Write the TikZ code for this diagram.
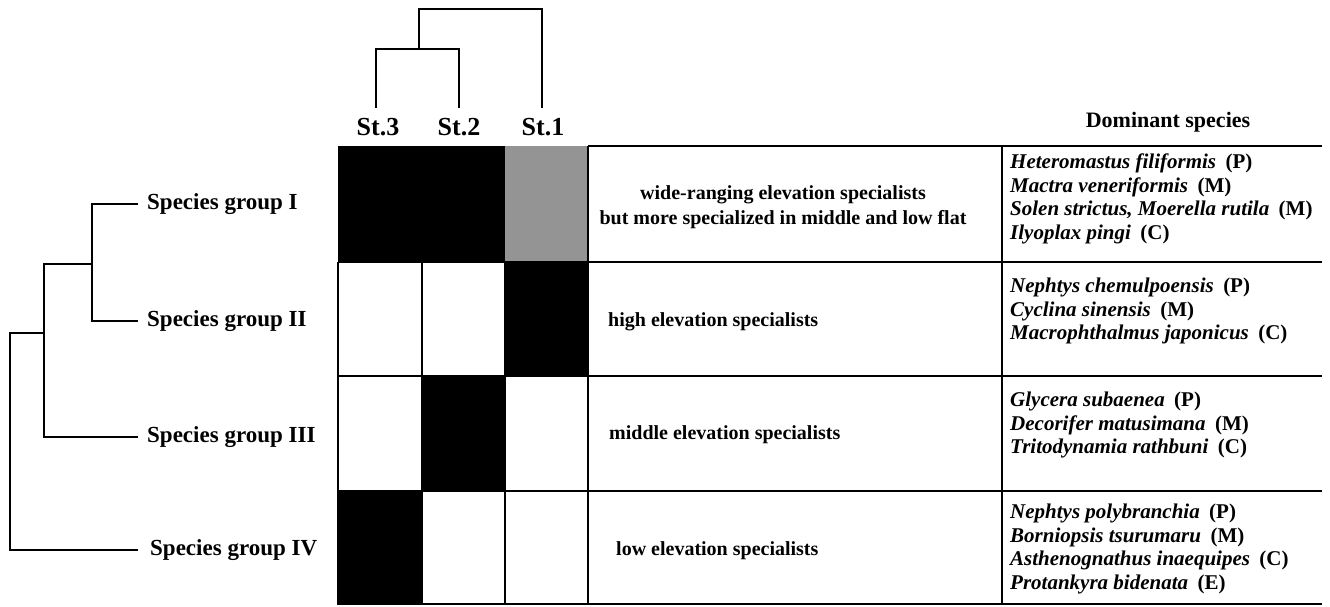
\documentclass[tikz,border=0pt]{standalone}
\usepackage{fontspec}
\setmainfont{Liberation Serif}
\begin{document}
\begin{tikzpicture}[x=1pt,y=-1pt]
\useasboundingbox[fill=white] (0,0) rectangle (1330,607);
\tikzset{
  dend/.style={line width=1.6pt},
  gridline/.style={line width=1.8pt},
  rule/.style={line width=2.8pt},
  grp/.style={font=\fontsize{23}{27}\selectfont\bfseries, anchor=west, inner sep=0pt},
  stn/.style={font=\fontsize{26}{30}\selectfont\bfseries, inner sep=0pt},
  hdr/.style={font=\fontsize{22}{26}\selectfont\bfseries, inner sep=0pt},
  desc/.style={font=\fontsize{20}{25}\selectfont\bfseries, inner sep=0pt},
  spp/.style={font=\fontsize{21}{23.5}\selectfont\bfseries, anchor=west, inner sep=0pt, align=left},
}
\newcommand{\taxon}[2]{\textit{#1}\hspace{0.45em}(#2)}

% ---- occupancy cells (rows = species groups, columns = stations) ----
\fill[black]   (338,146) rectangle (505,262);
\fill[black!42] (505,146) rectangle (588,262);
\fill[black]   (505,262) rectangle (588,376);
\fill[black]   (422,376) rectangle (505,491);
\fill[black]   (338,491) rectangle (422,605);

% ---- grid lines ----
\foreach \x in {338,422,505} \draw[gridline] (\x,262) -- (\x,605);
\draw[gridline] (588,146) -- (588,605);
\foreach \y in {262,376,491} \draw[gridline] (338,\y) -- (588,\y);
\draw[gridline] (338,604) -- (588,604);

% ---- table rules on the right ----
\draw[rule] (588,146) -- (1322,146);
\foreach \y in {262,376,491} \draw[rule] (588,\y) -- (1322,\y);
\draw[rule] (588,604) -- (1322,604);
\draw[gridline] (1002,146) -- (1002,605);

% ---- station dendrogram ----
\node[stn] (st3) at (378,127) {St.3};
\node[stn] (st2) at (459,127) {St.2};
\node[stn] (st1) at (543,127) {St.1};
\coordinate (t3) at (376,108);
\coordinate (t2) at (459,108);
\coordinate (t1) at (542,108);
\coordinate (j23) at (419,49);
\coordinate (jroot) at (419,9);
\draw[dend] (t3) -- (t3 |- j23) -- (t2 |- j23) -- (t2);
\draw[dend] (j23) -- (jroot) -- (t1 |- jroot) -- (t1);

% ---- species-group dendrogram ----
\node[grp] (g1) at (147,204) {Species group I};
\node[grp] (g2) at (147,321) {Species group II};
\node[grp] (g3) at (147,437) {Species group III};
\node[grp] (g4) at (150,550) {Species group IV};
\coordinate (l1) at (138,204);
\coordinate (l2) at (138,321);
\coordinate (l3) at (138,437);
\coordinate (l4) at (138,550);
\coordinate (j12) at (92,264);
\coordinate (j123) at (44,333);
\draw[dend] (l1) -- (92,204) -- (92,321) -- (l2);
\draw[dend] (j12) -- (44,264) -- (44,437) -- (l3);
\draw[dend] (j123) -- (10,333) -- (10,550) -- (l4);

% ---- habitat descriptions ----
\node[desc, align=center] (d1) at (783,207) {wide-ranging elevation specialists\\but more specialized in middle and low flat};
\node[desc, anchor=west] (d2) at (608,322) {high elevation specialists};
\node[desc, anchor=west] (d3) at (609,435) {middle elevation specialists};
\node[desc, anchor=west] (d4) at (616,551) {low elevation specialists};

% ---- dominant species ----
\node[hdr] (hd) at (1168,122) {Dominant species};
\node[spp] (s1) at (1010,199) {\taxon{Heteromastus filiformis}{P}\\\taxon{Mactra veneriformis}{M}\\\taxon{Solen strictus, Moerella rutila}{M}\\\taxon{Ilyoplax pingi}{C}};
\node[spp] (s2) at (1010,311) {\taxon{Nephtys chemulpoensis}{P}\\\taxon{Cyclina sinensis}{M}\\\taxon{Macrophthalmus japonicus}{C}};
\node[spp] (s3) at (1010,425) {\taxon{Glycera subaenea}{P}\\\taxon{Decorifer matusimana}{M}\\\taxon{Tritodynamia rathbuni}{C}};
\node[spp] (s4) at (1010,549) {\taxon{Nephtys polybranchia}{P}\\\taxon{Borniopsis tsurumaru}{M}\\\taxon{Asthenognathus inaequipes}{C}\\\taxon{Protankyra bidenata}{E}};
\end{tikzpicture}
\end{document}
